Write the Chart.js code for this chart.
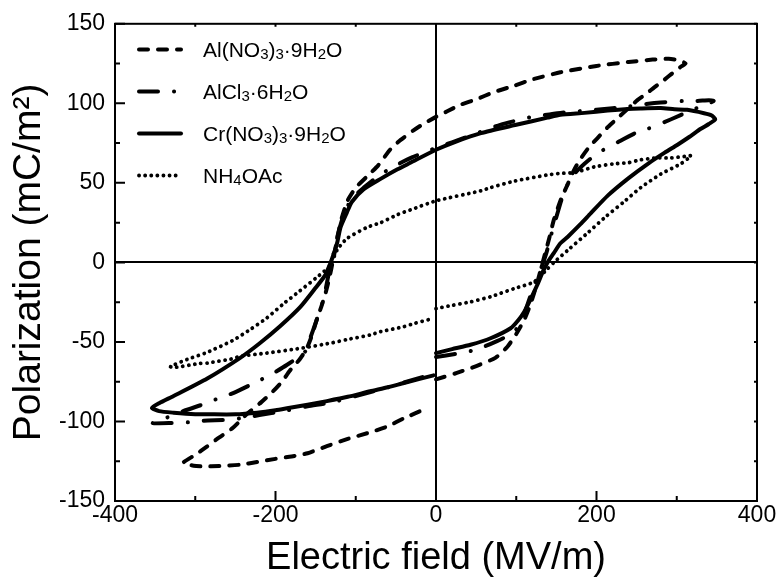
<!DOCTYPE html>
<html>
<head>
<meta charset="utf-8">
<script src="https://cdn.jsdelivr.net/npm/chart.js@4.4.1/dist/chart.umd.min.js"></script>
<style>
  html, body { margin: 0; padding: 0; background: #fff; }
  canvas { display: block; }
</style>
</head>
<body>
<canvas id="pe" width="779" height="578"></canvas>
<script>
// legend names, subscripts kept as unicode
var seriesNames = ['Al(NO₃)₃·9H₂O', 'AlCl₃·6H₂O', 'Cr(NO₃)₃·9H₂O', 'NH₄OAc'];

// Al(NO3)3.9H2O  (dashed)
var alNitrateE = [0, 26, 51, 74, 89, 100, 110, 118, 126, 134, 141, 147, 156, 164, 172, 180, 190, 201, 214, 227, 240, 251, 262, 272, 285, 296, 305, 311,
  303, 290, 270, 240, 200, 155, 120, 97, 72, 50, 30, 14, 0, -16, -28, -44, -57, -72, -86, -100, -110, -118, -123, -128, -133, -138, -143, -148, -154, -161, -170, -182, -192, -203, -218, -235, -253, -270, -286, -300, -315,
  -302, -290, -270, -244, -223, -200, -180, -160, -136, -110, -80, -60, -40, -15];
var alNitrateP = [-73.5, -69.5, -65, -60, -53, -45, -36, -26, -13, 2, 15, 27, 40, 49, 58, 65, 72, 78, 85, 91, 97, 102, 106, 110, 115, 119.5, 123, 125,
  127, 128, 127.5, 126, 123.5, 119.5, 115, 111, 107, 102.5, 99, 95, 91.5, 87, 83, 77, 71, 61, 54, 47, 39, 27, 15, 2, -10, -20, -28, -35, -45, -54, -61, -68, -75, -81, -88, -95, -104, -110, -116, -121, -126,
  -127.8, -128.3, -128, -127.2, -125.5, -123.5, -122, -120, -115.5, -111, -106.5, -103, -98, -92.5];

// AlCl3.6H2O  (dash-dot)
var alChlorideE = [0, 25, 45, 62, 76, 90, 100, 108, 115, 122, 130, 137, 145, 152, 158, 164, 170, 185, 201, 228, 247, 264, 293, 320, 346,
  340, 326, 309, 280, 261, 240, 200, 155, 120, 80, 50, 20, 0, -30, -50, -70, -90, -105, -115, -122, -127, -130, -134, -138, -143, -150, -157, -163, -186, -204, -223, -252, -269, -286, -315, -335, -353,
  -330, -309, -290, -260, -244, -220, -190, -160, -130, -100, -70, -40, -3];
var alChlorideP = [-59.5, -57.5, -55.5, -52.5, -49.5, -46, -42, -35, -25, -15, -5, 5, 20, 32, 42, 49, 54.5, 62, 68.5, 76, 81, 84, 90, 96, 101.5,
  102, 101.5, 101.5, 100.5, 99.5, 98, 96, 94, 91.5, 86.5, 81, 75.5, 72, 66, 61, 55, 47, 40, 30, 18, 7, 0, -8, -18, -28, -38, -48, -56, -64.5, -70, -75, -82, -85, -88.5, -93.5, -97.5, -101,
  -101, -100.5, -99.5, -99, -98, -96, -93.5, -90.5, -88, -84, -80, -75.5, -70];

// Cr(NO3)3.9H2O  (solid)
var crNitrateE = [0, 20, 43, 68, 93, 103, 110, 118, 126, 133, 139, 147, 155, 164, 180, 193, 214, 240, 264, 285, 301, 316, 330, 340, 348,
  343, 334, 313, 297, 280, 255, 239, 214, 185, 155, 139, 100, 56, 25, 0, -32, -48, -69, -90, -105, -111, -119, -123, -128, -132, -138, -150, -169, -194, -220, -244, -285, -327, -345, -354,
  -345, -327, -300, -285, -250, -223, -200, -182, -160, -136, -110, -82, -60, -40, -3];
var crNitrateP = [-57, -54.5, -51.8, -47.7, -41.4, -36, -31, -23, -14.4, -6, 0, 6, 12, 16, 24, 31, 42, 53, 62, 69, 74, 79, 84, 87, 90,
  92.5, 93.8, 95.9, 96.3, 97, 96.8, 96.5, 95.5, 94, 92.8, 91, 86.5, 81.3, 76, 70.8, 62.6, 58.5, 52.5, 46, 38, 31.4, 22, 12.7, 4.5, -1, -8, -16, -28, -40, -51, -60, -73, -84, -88.5, -91.5,
  -93.5, -94.5, -95.5, -95.5, -95.5, -94.5, -93, -91.4, -89.5, -87.2, -84.5, -81, -78.5, -75.8, -71];

// NH4OAc  (dotted)
var acetateE = [0, 20, 43, 68, 97, 122, 139, 147, 165, 190, 212, 234, 255, 280, 305, 318,
  313, 293, 276, 255, 239, 222, 197, 172, 155, 139, 97, 68, 56, 0, -32, -48, -69, -86, -111, -123, -132, -150, -170, -190, -211, -231, -253, -285, -310, -331,
  -325, -294, -285, -253, -244, -211, -169, -132, -111, -82, -69, -40, -28, -3];
var acetateP = [-29, -27, -24.8, -21.6, -16.5, -12.3, -4, 0, 8, 19, 29, 38, 47, 55.5, 62, 67,
  66.8, 65.7, 65.7, 64.5, 62.6, 62, 60, 56.4, 56, 55, 51, 47, 45, 38.7, 33, 30, 25, 22, 15, 8, -2, -10, -18, -26, -35, -42, -49, -56.5, -61, -65.5,
  -66, -63.5, -63.3, -60.5, -59, -57, -54, -50.8, -48.5, -45.6, -43.5, -40.4, -38.5, -35.2];

function pts(e, p) {
  return e.map(function (v, i) { return { x: v, y: p[i] }; });
}

Chart.defaults.font.family = "'Liberation Sans', Arial, sans-serif";
Chart.defaults.color = '#000';

// frame + inward ticks on all four sides
var framePlugin = {
  id: 'frame',
  afterDraw: function (chart) {
    var ctx = chart.ctx, a = chart.chartArea;
    var xs = chart.scales.x, ys = chart.scales.y;
    ctx.save();
    ctx.strokeStyle = '#000';
    ctx.setLineDash([]);
    ctx.lineWidth = 2;
    ctx.strokeRect(a.left, a.top, a.right - a.left, a.bottom - a.top);
    ctx.beginPath();
    for (var v = -400; v <= 400; v += 100) {
      var px = xs.getPixelForValue(v);
      ctx.moveTo(px, a.bottom); ctx.lineTo(px, a.bottom - (v % 200 === 0 ? 10 : 5));
      ctx.moveTo(px, a.top); ctx.lineTo(px, a.top + 3);
    }
    for (var w = -150; w <= 150; w += 25) {
      var py = ys.getPixelForValue(w);
      ctx.moveTo(a.left, py); ctx.lineTo(a.left + (w % 50 === 0 ? 10 : 5), py);
      ctx.moveTo(a.right, py); ctx.lineTo(a.right - 3, py);
    }
    ctx.stroke();
    ctx.restore();
  }
};

// legend inside the plot, top left, with subscripts
var legendPlugin = {
  id: 'insetLegend',
  afterDraw: function (chart) {
    var ctx = chart.ctx;
    ctx.save();
    chart.data.datasets.forEach(function (ds, i) {
      var y = 49.5 + i * 42;
      ctx.beginPath();
      ctx.strokeStyle = '#000';
      ctx.lineWidth = ds.borderWidth;
      ctx.lineCap = 'round';
      ctx.setLineDash(ds.borderDash || []);
      ctx.moveTo(139, y);
      ctx.lineTo(181, y);
      ctx.stroke();
      ctx.setLineDash([]);
      ctx.fillStyle = '#000';
      ctx.textBaseline = 'alphabetic';
      var x = 203;
      var name = ds.label;
      for (var k = 0; k < name.length; k++) {
        var c = name.charCodeAt(k);
        if (c >= 0x2080 && c <= 0x2089) {
          ctx.font = "15px 'Liberation Sans', Arial, sans-serif";
          var d = String.fromCharCode(c - 0x2080 + 48);
          ctx.fillText(d, x, y + 9);
          x += ctx.measureText(d).width;
        } else {
          ctx.font = "21px 'Liberation Sans', Arial, sans-serif";
          ctx.fillText(name[k], x, y + 7.5);
          x += ctx.measureText(name[k]).width;
        }
      }
    });
    ctx.restore();
  }
};

function zeroLine(c) {
  return c.tick && c.tick.value === 0 ? '#000' : 'rgba(0,0,0,0)';
}

new Chart(document.getElementById('pe').getContext('2d'), {
  type: 'scatter',
  data: {
    datasets: [
      { label: seriesNames[0], data: pts(alNitrateE, alNitrateP), borderDash: [9, 10], borderWidth: 4 },
      { label: seriesNames[1], data: pts(alChlorideE, alChlorideP), borderDash: [19, 16, 0.1, 16], borderWidth: 4 },
      { label: seriesNames[2], data: pts(crNitrateE, crNitrateP), borderDash: [], borderWidth: 4 },
      { label: seriesNames[3], data: pts(acetateE, acetateP), borderDash: [0.1, 6], borderWidth: 3.8 }
    ].map(function (d) {
      d.showLine = true;
      d.borderColor = '#000';
      d.backgroundColor = '#000';
      d.borderCapStyle = 'round';
      d.borderJoinStyle = 'round';
      d.pointRadius = 0;
      d.tension = 0.2;
      d.fill = false;
      return d;
    })
  },
  options: {
    responsive: false,
    animation: false,
    devicePixelRatio: 1,
    layout: { padding: { top: 20, right: 22, left: 0, bottom: 0 } },
    plugins: { legend: { display: false }, tooltip: { enabled: false } },
    scales: {
      x: {
        type: 'linear', min: -400, max: 400,
        ticks: { stepSize: 200, padding: 1, font: { size: 23 } },
        grid: { drawTicks: false, lineWidth: 2, color: zeroLine },
        border: { display: false },
        title: { display: true, text: 'Electric field (MV/m)', font: { size: 38, lineHeight: 1 }, padding: { top: 0, bottom: 0 } },
        afterFit: function (s) { s.height = 77; }
      },
      y: {
        type: 'linear', min: -150, max: 150,
        ticks: { stepSize: 50, padding: 10, font: { size: 23 } },
        grid: { drawTicks: false, lineWidth: 2, color: zeroLine },
        border: { display: false },
        title: { display: true, text: 'Polarization (mC/m²)', font: { size: 39, lineHeight: 1 }, padding: { top: 10, bottom: 0 } },
        afterFit: function (s) { s.width = 115; }
      }
    }
  },
  plugins: [framePlugin, legendPlugin]
});
</script>
</body>
</html>
